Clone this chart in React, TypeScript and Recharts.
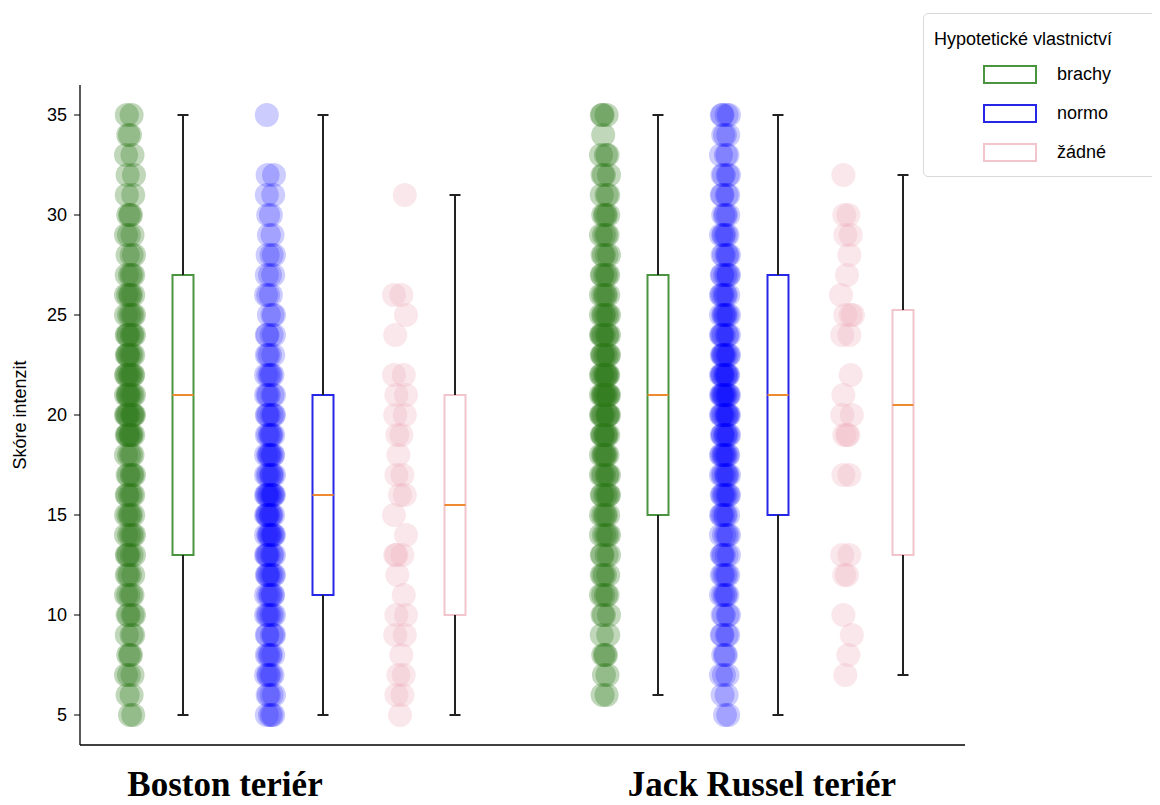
import React from 'react';
import { ComposedChart, Scatter, XAxis, YAxis, ReferenceArea, ReferenceLine, Legend } from 'recharts';

// ---------- data ----------
const breeds = ['Boston teriér', 'Jack Russel teriér'];
const ownership = ['brachy', 'normo', 'žádné'];
const legendTitle = 'Hypotetické vlastnictví';
const yLabel = 'Skóre intenzit';
const yTicks = [5, 10, 15, 20, 25, 30, 35];

// score values shown on the strip plots
const scores = [5, 6, 7, 8, 9, 10, 11, 12, 13, 14, 15, 16, 17, 18, 19, 20, 21, 22, 23, 24, 25, 26, 27, 28, 29, 30, 31, 32, 33, 34, 35];

// number of respondents per score (aligned with `scores`)
const bostonBrachyCounts = [2, 2, 3, 3, 3, 4, 4, 4, 5, 5, 5, 5, 5, 4, 7, 8, 7, 7, 6, 6, 5, 5, 4, 3, 3, 3, 2, 2, 2, 2, 2];
const bostonNormoCounts = [4, 4, 5, 5, 5, 6, 6, 7, 7, 8, 8, 9, 7, 7, 6, 6, 5, 5, 4, 4, 3, 3, 3, 3, 2, 2, 2, 2, 0, 0, 1];
const bostonNoneCounts = [1, 2, 2, 1, 2, 2, 1, 1, 3, 1, 1, 2, 2, 1, 2, 2, 2, 2, 0, 1, 1, 2, 0, 0, 0, 0, 1, 0, 0, 0, 0];
const jackBrachyCounts = [0, 2, 2, 3, 2, 3, 4, 4, 4, 5, 5, 6, 6, 6, 7, 8, 9, 8, 7, 7, 6, 5, 5, 4, 4, 4, 3, 3, 3, 1, 3];
const jackNormoCounts = [2, 2, 3, 3, 4, 4, 5, 5, 5, 5, 6, 7, 7, 8, 8, 9, 10, 9, 8, 7, 7, 6, 6, 5, 5, 4, 4, 4, 3, 3, 4];
const jackNoneCounts = [0, 0, 1, 1, 1, 1, 0, 2, 2, 0, 0, 0, 2, 0, 3, 2, 1, 1, 0, 2, 3, 1, 1, 1, 2, 2, 0, 1, 0, 0, 0];

// box stats: [whisker low, Q1, median, Q3, whisker high]
const bostonBrachyBox = [5, 13, 21, 27, 35];
const bostonNormoBox = [5, 11, 16, 21, 35];
const bostonNoneBox = [5, 10, 15.5, 21, 31];
const jackBrachyBox = [6, 15, 21, 27, 35];
const jackNormoBox = [5, 15, 21, 27, 35];
const jackNoneBox = [7, 13, 20.5, 25.25, 32];

// ---------- layout / style ----------
const W = 1150;
const H = 797;
const X_DOMAIN = [0, 885];
const Y_DOMAIN = [3.5, 36.5];
const BREED_TICK_X = [145, 682];
const BOX_HALF = 10.5;
const CAP_HALF = 5.5;
const R = 12;
const JITTER = [0, 3.2, -3.2, 1.6, -2.4, 4, -1.1, 2.5, -4, 0.9, -1.8];
const SANS = "'Liberation Sans', Arial, sans-serif";

const STYLE = {
  brachy: { pt: '#2f7a1a', op: 0.3, box: '#4a9440', spread: 1 },
  normo: { pt: '#0000ff', op: 0.2, box: '#2626e8', spread: 1 },
  'žádné': { pt: '#f0b0bc', op: 0.3, box: '#f2c4cc', spread: 1.5 },
};

const groups = [
  { own: 'brachy', counts: bostonBrachyCounts, box: bostonBrachyBox, px: 50, bx: 103 },
  { own: 'normo', counts: bostonNormoCounts, box: bostonNormoBox, px: 190, bx: 243 },
  { own: 'žádné', counts: bostonNoneCounts, box: bostonNoneBox, px: 320, bx: 375 },
  { own: 'brachy', counts: jackBrachyCounts, box: jackBrachyBox, px: 525, bx: 578 },
  { own: 'normo', counts: jackNormoCounts, box: jackNormoBox, px: 645, bx: 698 },
  { own: 'žádné', counts: jackNoneCounts, box: jackNoneBox, px: 767, bx: 823 },
];

function expand(counts: number[], cx: number, spread: number) {
  const pts: { x: number; y: number }[] = [];
  counts.forEach((n, i) => {
    for (let k = 0; k < n; k++) {
      const j = JITTER[(k + i * 3) % JITTER.length];
      pts.push({ x: cx + j * spread, y: scores[i] });
    }
  });
  return pts;
}

const XTick = (props: any) => {
  const { x, y, payload } = props;
  const idx = BREED_TICK_X.indexOf(payload.value);
  return (
    <text
      x={x}
      y={y + 51}
      textAnchor="middle"
      fontFamily="'Liberation Serif', 'Times New Roman', serif"
      fontWeight="bold"
      fontSize={35}
      fill="#000"
    >
      {breeds[idx]}
    </text>
  );
};

const YLabel = (props: any) => {
  const vb = props.viewBox || {};
  const cx = (vb.x || 0) + 12;
  const cy = (vb.y || 0) + (vb.height || 0) / 2;
  return (
    <text
      x={cx}
      y={cy}
      transform={`rotate(-90, ${cx}, ${cy})`}
      textAnchor="middle"
      dominantBaseline="central"
      fontFamily={SANS}
      fontSize={18}
      fill="#000"
    >
      {yLabel}
    </text>
  );
};

const LegendBox = () => (
  <div
    style={{
      position: 'relative',
      width: 235,
      height: 164,
      boxSizing: 'border-box',
      border: '1px solid #d9d9d9',
      borderRadius: 5,
      background: '#fff',
      fontFamily: SANS,
      color: '#000',
    }}
  >
    <div style={{ position: 'absolute', left: 10, top: 15, fontSize: 18, lineHeight: '20px', whiteSpace: 'nowrap' }}>
      {legendTitle}
    </div>
    {ownership.map((name, i) => (
      <React.Fragment key={name}>
        <div
          style={{
            position: 'absolute',
            left: 59,
            top: 51 + i * 39,
            width: 54,
            height: 19,
            boxSizing: 'border-box',
            border: `2px solid ${(STYLE as any)[name].box}`,
            background: '#fff',
          }}
        />
        <div style={{ position: 'absolute', left: 133, top: 50 + i * 39, fontSize: 18, lineHeight: '21px' }}>{name}</div>
      </React.Fragment>
    ))}
  </div>
);

export default function App() {
  return (
    <div style={{ width: W, height: H, background: '#fff' }}>
      <ComposedChart width={W} height={H} margin={{ top: 77, right: 193, bottom: 0, left: 0 }}>
        <XAxis
          type="number"
          dataKey="x"
          domain={X_DOMAIN}
          allowDataOverflow
          ticks={BREED_TICK_X}
          interval={0}
          tick={<XTick />}
          tickLine={false}
          tickSize={0}
          tickMargin={0}
          height={60}
          axisLine={{ stroke: '#000', strokeWidth: 1.3 }}
        />
        <YAxis
          type="number"
          dataKey="y"
          domain={Y_DOMAIN}
          allowDataOverflow
          ticks={yTicks}
          interval={0}
          width={72}
          tickSize={6}
          tickMargin={7}
          tick={{ fill: '#000', fontSize: 18, fontFamily: SANS }}
          tickLine={{ stroke: '#000' }}
          axisLine={{ stroke: '#000', strokeWidth: 1.3 }}
          label={<YLabel />}
        />
        {groups.map((g, gi) => {
          const st = (STYLE as any)[g.own];
          return (
            <Scatter
              key={`pts-${gi}`}
              name={g.own}
              data={expand(g.counts, g.px, st.spread)}
              isAnimationActive={false}
              legendType="none"
              shape={(p: any) => <circle cx={p.cx} cy={p.cy} r={R} fill={st.pt} fillOpacity={st.op} />}
            />
          );
        })}
        {groups.map((g, gi) => (
          <ReferenceLine
            key={`wl-${gi}`}
            segment={[{ x: g.bx, y: g.box[0] }, { x: g.bx, y: g.box[1] }]}
            stroke="#222"
            strokeWidth={2}
          />
        ))}
        {groups.map((g, gi) => (
          <ReferenceLine
            key={`wh-${gi}`}
            segment={[{ x: g.bx, y: g.box[3] }, { x: g.bx, y: g.box[4] }]}
            stroke="#222"
            strokeWidth={2}
          />
        ))}
        {groups.map((g, gi) => (
          <ReferenceLine
            key={`cl-${gi}`}
            segment={[{ x: g.bx - CAP_HALF, y: g.box[0] }, { x: g.bx + CAP_HALF, y: g.box[0] }]}
            stroke="#222"
            strokeWidth={2}
          />
        ))}
        {groups.map((g, gi) => (
          <ReferenceLine
            key={`ch-${gi}`}
            segment={[{ x: g.bx - CAP_HALF, y: g.box[4] }, { x: g.bx + CAP_HALF, y: g.box[4] }]}
            stroke="#222"
            strokeWidth={2}
          />
        ))}
        {groups.map((g, gi) => (
          <ReferenceArea
            key={`box-${gi}`}
            x1={g.bx - BOX_HALF}
            x2={g.bx + BOX_HALF}
            y1={g.box[1]}
            y2={g.box[3]}
            fill="#fff"
            fillOpacity={1}
            stroke={(STYLE as any)[g.own].box}
            strokeWidth={2}
          />
        ))}
        {groups.map((g, gi) => (
          <ReferenceLine
            key={`med-${gi}`}
            segment={[{ x: g.bx - BOX_HALF, y: g.box[2] }, { x: g.bx + BOX_HALF, y: g.box[2] }]}
            stroke="#f08a30"
            strokeWidth={2}
          />
        ))}
        <Legend
          layout="horizontal"
          verticalAlign="middle"
          align="center"
          content={() => <LegendBox />}
          wrapperStyle={{ left: 915, top: 5, width: 235, height: 164 }}
        />
      </ComposedChart>
    </div>
  );
}
